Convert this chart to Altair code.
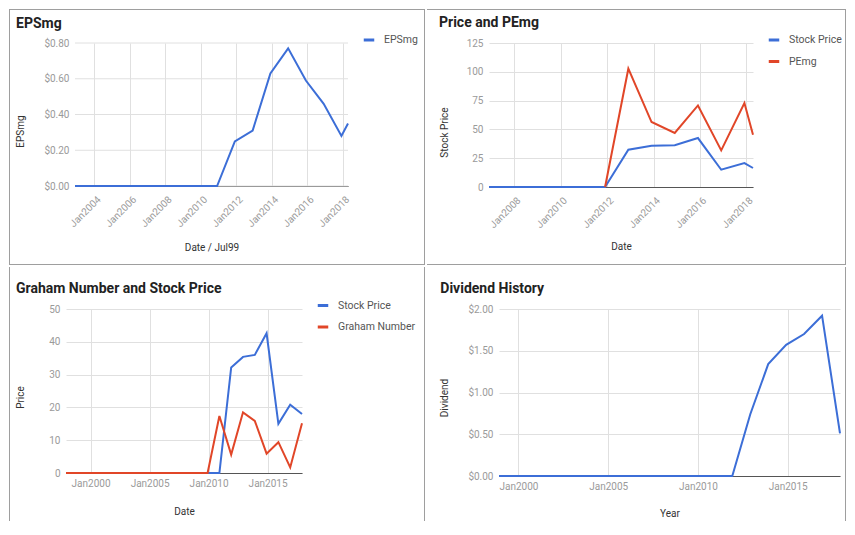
import altair as alt
import pandas as pd

FONT = "Roboto"
BLUE = "#3c6ed7"
RED = "#e14628"
GRID = "#e0e0e0"
BASE = "#555555"
LABEL = "#9a9a9a"
AXTITLE = "#333333"
LEGTXT = "#555555"
TITLE = "#222222"
BORDER = "#9e9e9e"

# ---------------- data ----------------
# Panel 1: EPSmg
eps_dates = ["2002-12-01", "2003-12-01", "2004-12-01", "2005-12-01", "2006-12-01",
             "2007-12-01", "2008-12-01", "2009-12-01", "2010-12-01", "2011-12-01",
             "2012-12-01", "2013-12-01", "2014-12-01", "2015-12-01", "2016-12-01",
             "2017-12-01", "2018-04-15"]
eps_values = [0.00, 0.00, 0.00, 0.00, 0.00, 0.00, 0.00, 0.00, 0.00, 0.25,
              0.31, 0.63, 0.77, 0.59, 0.46, 0.28, 0.35]
eps_ticks = [2004, 2006, 2008, 2010, 2012, 2014, 2016, 2018]
eps_yticks = [0.0, 0.2, 0.4, 0.6, 0.8]

# Panel 2: Price and PEmg
pp_dates = ["2006-12-01", "2007-12-01", "2008-12-01", "2009-12-01", "2010-12-01",
            "2011-12-01", "2012-12-01", "2013-12-01", "2014-12-01", "2015-12-01",
            "2016-12-01", "2017-12-01", "2018-04-15"]
pp_price = [0, 0, 0, 0, 0, 0, 32.4, 35.8, 36.2, 42.5, 15.0, 20.8, 16.5]
pe_dates = ["2011-12-01", "2012-12-01", "2013-12-01", "2014-12-01", "2015-12-01",
            "2016-12-01", "2017-12-01", "2018-04-15"]
pe_values = [0, 102.7, 56.4, 46.9, 70.8, 31.8, 72.9, 45.4]
pp_ticks = [2008, 2010, 2012, 2014, 2016, 2018]
pp_yticks = [0, 25, 50, 75, 100, 125]

# Panel 3: Graham Number and Stock Price
gn_dates = ["1997-12-01", "1998-12-01", "1999-12-01", "2000-12-01", "2001-12-01",
            "2002-12-01", "2003-12-01", "2004-12-01", "2005-12-01", "2006-12-01",
            "2007-12-01", "2008-12-01", "2009-12-01", "2010-12-01", "2011-12-01",
            "2012-12-01", "2013-12-01", "2014-12-01", "2015-12-01", "2016-12-01",
            "2017-12-01"]
gn_price = [0, 0, 0, 0, 0, 0, 0, 0, 0, 0, 0, 0, 0, 0,
            32.2, 35.4, 36.0, 42.6, 15.0, 20.8, 18.0]
gn_graham = [0, 0, 0, 0, 0, 0, 0, 0, 0, 0, 0, 0, 0,
             17.4, 5.6, 18.5, 15.9, 5.9, 9.4, 1.7, 15.2]
gn_ticks = [2000, 2005, 2010, 2015]
gn_yticks = [0, 10, 20, 30, 40, 50]

# Panel 4: Dividend History
dv_dates = ["1998-12-01", "1999-12-01", "2000-12-01", "2001-12-01", "2002-12-01",
            "2003-12-01", "2004-12-01", "2005-12-01", "2006-12-01", "2007-12-01",
            "2008-12-01", "2009-12-01", "2010-12-01", "2011-12-01", "2012-12-01",
            "2013-12-01", "2014-12-01", "2015-12-01", "2016-12-01", "2017-12-01"]
dv_values = [0, 0, 0, 0, 0, 0, 0, 0, 0, 0, 0, 0, 0, 0,
             0.74, 1.34, 1.57, 1.70, 1.92, 0.51]
dv_ticks = [2000, 2005, 2010, 2015]
dv_yticks = [0.0, 0.5, 1.0, 1.5, 2.0]

ONE = pd.DataFrame({"k": [0]})


def long_df(series_list):
    rows = []
    for name, dates, vals in series_list:
        for d, v in zip(dates, vals):
            rows.append({"date": d, "value": v, "series": name})
    return pd.DataFrame(rows)


def panel(series_list, colors, w, h, shift, xticks, rotated, yticks, yfmt, ydomain,
          ytitle, ytitle_xy, xtitle, xtitle_y, legend_xy, title, title_xy,
          frame, borders, lab_pad):
    df = long_df(series_list)
    names = [s[0] for s in series_list]
    xaxis = alt.Axis(
        values=[alt.DateTime(year=y, month=1, date=1) for y in xticks],
        format="%b%Y",
        labelAngle=-45 if rotated else 0,
        labelAlign="right" if rotated else "center",
        labelBaseline="top",
        labelPadding=lab_pad[0], labelOffset=lab_pad[1],
        labelFont=FONT, labelFontSize=10, labelColor=LABEL,
        labelFlush=False, labelOverlap=False,
        grid=True, gridColor=GRID, gridWidth=1,
        domain=True, domainColor=BASE, domainWidth=1, ticks=False,
        title=xtitle, titleFont=FONT, titleFontSize=10, titleFontWeight="normal",
        titleColor=AXTITLE, titleX=shift + w / 2, titleY=xtitle_y,
        titleAlign="center", titleBaseline="middle")
    yaxis = alt.Axis(
        values=yticks, format=yfmt, offset=-shift,
        labelFont=FONT, labelFontSize=10, labelColor=LABEL, labelPadding=6,
        grid=(shift == 0), gridColor=GRID, gridWidth=1, domain=False, ticks=False,
        title=ytitle, titleFont=FONT, titleFontSize=10, titleFontWeight="normal",
        titleColor=AXTITLE, titleX=ytitle_xy[0], titleY=ytitle_xy[1],
        titleAngle=270, titleAlign="center", titleBaseline="middle")
    if legend_xy is None:
        legend = None
    else:
        legend = alt.Legend(orient="none", legendX=shift + legend_xy[0],
                            legendY=legend_xy[1],
                            title=None, symbolType="stroke", symbolSize=110,
                            symbolStrokeWidth=3, labelFont=FONT, labelFontSize=10.5,
                            labelColor=LEGTXT, labelOffset=8, rowPadding=8.5, padding=0)
    xscale = alt.Scale(nice=False, range=[shift, shift + w])
    yscale = alt.Scale(domain=ydomain, nice=False)
    base = alt.Chart(df).encode(
        x=alt.X("date:T", scale=xscale, axis=xaxis),
        y=alt.Y("value:Q", scale=yscale, axis=yaxis),
        color=alt.Color("series:N", scale=alt.Scale(domain=names, range=colors),
                        legend=legend),
    )
    layers = []
    if shift:
        # horizontal gridlines only across the data area
        grid_df = pd.DataFrame({"value": yticks})
        layers.append(alt.Chart(grid_df).mark_rule(color=GRID, strokeWidth=1).encode(
            y=alt.Y("value:Q", scale=yscale, axis=yaxis),
            x=alt.value(shift), x2=alt.value(shift + w)))
    for n in names:
        layers.append(base.transform_filter(alt.datum.series == n)
                      .mark_line(strokeWidth=2))
    L, T, R, B = frame
    layers.append(alt.Chart(ONE).mark_rule(opacity=0, strokeWidth=0).encode(
        x=alt.value(L), x2=alt.value(R), y=alt.value(T), y2=alt.value(B)))
    for (x1, y1, x2, y2) in borders:
        layers.append(alt.Chart(ONE).mark_rule(color=BORDER, strokeWidth=1).encode(
            x=alt.value(x1), x2=alt.value(x2), y=alt.value(y1), y2=alt.value(y2)))
    layers.append(alt.Chart(ONE).mark_text(
        text=title, font=FONT, fontSize=14, fontWeight="bold", color=TITLE,
        align="left", baseline="alphabetic").encode(
        x=alt.value(title_xy[0]), y=alt.value(title_xy[1])))
    return alt.layer(*layers).properties(width=w + shift, height=h)


# group origins (chart coords): p1 (58,35) with data starting at +9, p2 (481,35),
# p3 (58,301), p4 (491,301); cell boundaries x=0/418/839, y=0/258/514
p1 = panel([("EPSmg", eps_dates, eps_values)], [BLUE], 273, 143, 9,
           eps_ticks, True, eps_yticks, "$.2f", [0, 0.8],
           "EPSmg", (-55, 88), "Date / Jul99", 61, (287, -10),
           "EPSmg", (-50, -15.5),
           (-58, -35, 360, 223),
           [(-57, -33.5, 359, -33.5), (-56.5, -34, -56.5, 222),
            (358.5, -34, 358.5, 222), (-57, 221.5, 359, 221.5)],
           (8, 1))

p2 = panel([("Stock Price", pp_dates, pp_price), ("PEmg", pe_dates, pe_values)],
           [BLUE, RED], 264, 144, 0,
           pp_ticks, True, pp_yticks, "d", [0, 125],
           "Stock Price", (-45, 89), "Date", 59.5, (278, -10),
           "Price and PEmg", (-50, -16),
           (-63, -35, 358, 223),
           [(-62, -33.5, 357, -33.5), (356.5, -34, 356.5, 222),
            (-62, 221.5, 357, 221.5)],
           (8, 1))

p3 = panel([("Stock Price", gn_dates, gn_price), ("Graham Number", gn_dates, gn_graham)],
           [BLUE, RED], 236, 164, 0,
           gn_ticks, False, gn_yticks, "d", [0, 50],
           "Price", (-46, 88), "Date", 38, (250, -10.5),
           "Graham Number and Stock Price", (-50, -16.5),
           (-58, -43, 360, 213),
           [(-56.5, -42, -56.5, 212), (358.5, -42, 358.5, 212)],
           (5, 0))

p4 = panel([("Dividend", dv_dates, dv_values)], [BLUE], 341, 167, 0,
           dv_ticks, False, dv_yticks, "$.2f", [0, 2],
           "Dividend", (-55, 88.5), "Year", 37, None,
           "Dividend History", (-58.7, -16.5),
           (-73, -43, 348, 213),
           [(346.5, -42, 346.5, 212)],
           (5, 0))

row1 = alt.hconcat(p1, p2, spacing=0).resolve_scale(color="independent").resolve_legend(color="independent")
row2 = alt.hconcat(p3, p4, spacing=0).resolve_scale(color="independent").resolve_legend(color="independent")

chart = alt.vconcat(row1, row2, spacing=0).resolve_scale(
    color="independent").resolve_legend(color="independent").configure_view(
    stroke=None).properties(padding=0, background="white")

chart.save("out.html", embed_options={"renderer": "svg", "actions": False})
